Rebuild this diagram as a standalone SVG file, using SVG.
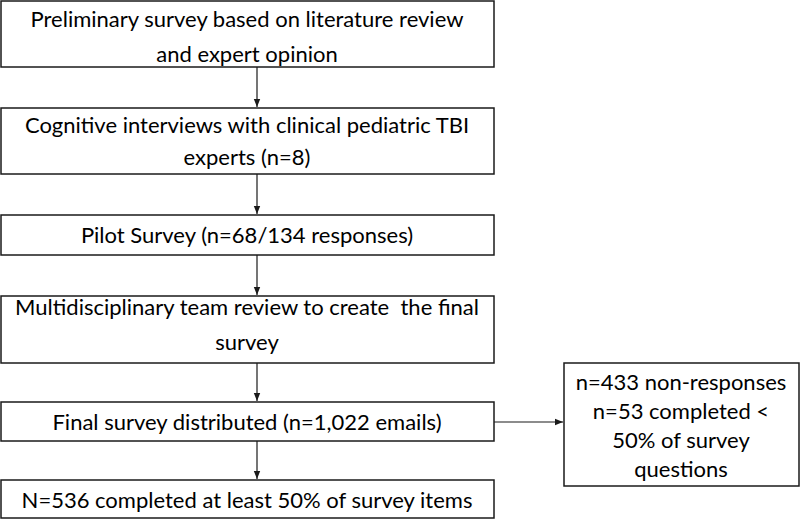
<svg xmlns="http://www.w3.org/2000/svg" width="800" height="519" viewBox="0 0 800 519">
<style>
  rect.box { fill: #ffffff; stroke: #1a1a1a; stroke-width: 1.5; }
  text { font-family: Lato, "Open Sans", "Liberation Sans", sans-serif; font-size: 22px; fill: #000; text-anchor: middle; white-space: pre; }
  .conn line { stroke: #1a1a1a; stroke-width: 1.2; }
</style>
<defs>
  <marker id="ah" viewBox="0 0 10 10" refX="10" refY="5" markerWidth="8" markerHeight="8" markerUnits="userSpaceOnUse" orient="auto">
    <path d="M0,1 L10,5 L0,9 Z" fill="#1a1a1a"/>
  </marker>
</defs>
<rect width="800" height="519" fill="#ffffff"/>
<g class="conn">
  <line x1="257" y1="67" x2="257" y2="107" marker-end="url(#ah)"/>
  <line x1="257" y1="174" x2="257" y2="214" marker-end="url(#ah)"/>
  <line x1="257" y1="255" x2="257" y2="295" marker-end="url(#ah)"/>
  <line x1="257" y1="363" x2="257" y2="401" marker-end="url(#ah)"/>
  <line x1="257" y1="441" x2="257" y2="479" marker-end="url(#ah)"/>
  <line x1="494" y1="422" x2="563" y2="422" marker-end="url(#ah)"/>
</g>
<g id="n1">
  <rect class="box" x="1" y="1" width="493" height="66"/>
  <text x="247" y="27">Preliminary survey based on literature review</text>
  <text x="247" y="62">and expert opinion</text>
</g>
<g id="n2">
  <rect class="box" x="1" y="108" width="493" height="66"/>
  <text x="247" y="133">Cognitive interviews with clinical pediatric TBI</text>
  <text x="247" y="165">experts (n=8)</text>
</g>
<g id="n3">
  <rect class="box" x="1" y="215" width="493" height="40"/>
  <text x="247" y="243">Pilot Survey (n=68/134 responses)</text>
</g>
<g id="n4">
  <rect class="box" x="1" y="296" width="493" height="67"/>
  <text x="247" y="315" xml:space="preserve">Multidisciplinary team review to create  the final</text>
  <text x="247" y="350">survey</text>
</g>
<g id="n5">
  <rect class="box" x="1" y="402" width="493" height="39"/>
  <text x="247" y="430">Final survey distributed (n=1,022 emails)</text>
</g>
<g id="n6">
  <rect class="box" x="1" y="480" width="493" height="38"/>
  <text x="247" y="508">N=536 completed at least 50% of survey items</text>
</g>
<g id="n7">
  <rect class="box" x="564" y="363" width="235" height="123"/>
  <text x="681" y="390">n=433 non-responses</text>
  <text x="681" y="419">n=53 completed &lt;</text>
  <text x="681" y="448">50% of survey</text>
  <text x="681" y="477">questions</text>
</g>
</svg>
